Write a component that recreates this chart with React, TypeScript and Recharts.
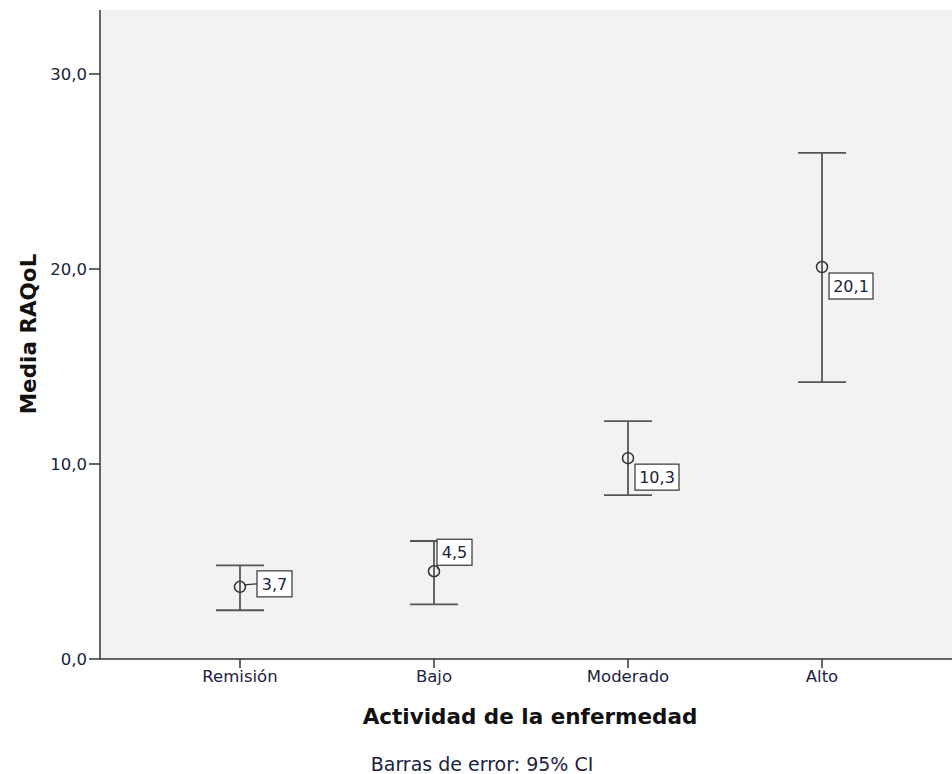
import {
  ComposedChart,
  Scatter,
  ErrorBar,
  XAxis,
  YAxis,
  CartesianGrid,
} from 'recharts'

const categories = ['Remisión', 'Bajo', 'Moderado', 'Alto']
const means = [3.7, 4.5, 10.3, 20.1]
const ciLow = [2.5, 2.8, 8.4, 14.2]
const ciHigh = [4.8, 6.05, 12.2, 25.95]
const yTicks = [0, 10, 20, 30]

const data = categories.map((name, i) => ({
  name,
  idx: i,
  mean: means[i],
  err: [means[i] - ciLow[i], ciHigh[i] - means[i]],
}))

const fmt = (v: number) => v.toFixed(1).replace('.', ',')

// where each value box sits relative to its point
const labelPlace = [
  { dx: 17, dy: -16, lead: true },
  { dx: 3, dy: -32, lead: true },
  { dx: 7, dy: 6, lead: false },
  { dx: 7, dy: 6, lead: false },
]

const FONT = '"DejaVu Sans", Verdana, sans-serif'

function PointShape(props: any) {
  const { cx, cy, payload } = props
  const p = labelPlace[payload.idx]
  const text = fmt(payload.mean)
  const w = text.length * 9 + 8
  const h = 26
  const bx = cx + p.dx
  const by = cy + p.dy
  return (
    <g>
      {p.lead && (
        <line
          x1={cx + 4}
          y1={cy - 2}
          x2={bx}
          y2={payload.idx === 1 ? by + h : by + h / 2}
          stroke="#333"
          strokeWidth={1.2}
        />
      )}
      <circle cx={cx} cy={cy} r={5.5} fill="none" stroke="#333" strokeWidth={1.5} />
      <rect x={bx} y={by} width={w} height={h} fill="#fff" stroke="#333" strokeWidth={1.2} />
      <text
        x={bx + w / 2}
        y={by + h / 2 + 6}
        textAnchor="middle"
        fontSize={16}
        fontFamily={FONT}
        fill="#1a2340"
      >
        {text}
      </text>
    </g>
  )
}

export default function App() {
  return (
    <div style={{ position: 'absolute', left: 0, top: 0, width: 952, height: 774, background: '#fff' }}>
      <ComposedChart
        width={952}
        height={774}
        data={data}
        margin={{ top: 10, right: 0, bottom: 0, left: 0 }}
      >
        <CartesianGrid fill="#f2f2f2" horizontal={false} vertical={false} />
        <XAxis
          xAxisId="top"
          orientation="top"
          type="number"
          dataKey="idx"
          domain={[-0.7216, 3.67]}
          tick={false}
          tickLine={false}
          axisLine={{ stroke: '#333', strokeWidth: 1.5 }}
          height={0}
        />
        <XAxis
          type="number"
          dataKey="idx"
          domain={[-0.7216, 3.67]}
          ticks={[0, 1, 2, 3]}
          allowDataOverflow
          height={115}
          tickFormatter={(v: number) => categories[v] ?? ''}
          tick={{ fontSize: 16.5, fontFamily: FONT, fill: '#1a2340' }}
          tickLine={{ stroke: '#333', strokeWidth: 1.5 }}
          tickSize={9}
          axisLine={{ stroke: '#333', strokeWidth: 1.5 }}
        />
        <YAxis
          type="number"
          domain={[0, 33.28]}
          ticks={yTicks}
          allowDataOverflow
          tickFormatter={fmt}
          tick={{ fontSize: 16.5, fontFamily: FONT, fill: '#1a2340' }}
          tickLine={{ stroke: '#333', strokeWidth: 1.5 }}
          tickSize={11}
          axisLine={{ stroke: '#333', strokeWidth: 1.5 }}
          width={100}
        />
        <Scatter dataKey="mean" shape={PointShape} isAnimationActive={false}>
          <ErrorBar dataKey="err" direction="y" width={24} stroke="#555" strokeWidth={1.8} />
        </Scatter>
        <text
          x={530}
          y={724}
          textAnchor="middle"
          fontSize={21.5}
          fontWeight="bold"
          fontFamily={FONT}
          fill="#111"
        >
          Actividad de la enfermedad
        </text>
        <text
          x={36}
          y={334}
          textAnchor="middle"
          transform="rotate(-90 36 334)"
          fontSize={21.5}
          fontWeight="bold"
          fontFamily={FONT}
          fill="#111"
        >
          Media RAQoL
        </text>
        <text
          x={482}
          y={771}
          textAnchor="middle"
          fontSize={19}
          fontFamily={FONT}
          fill="#1a2340"
        >
          Barras de error: 95% CI
        </text>
      </ComposedChart>
    </div>
  )
}
